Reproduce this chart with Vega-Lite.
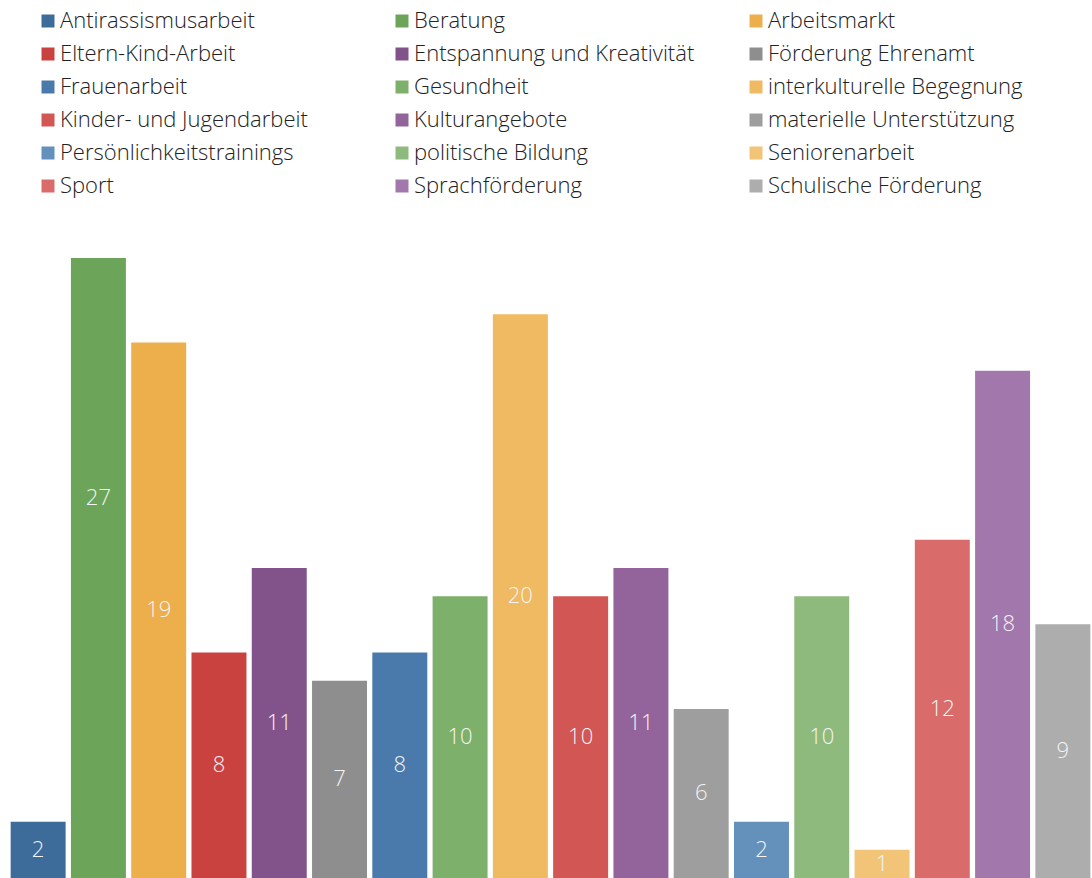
{
  "$schema": "https://vega.github.io/schema/vega-lite/v6.json",
  "autosize": {"type": "none"},
  "width": 1085,
  "height": 620,
  "padding": {"left": 8, "top": 258, "right": 0, "bottom": 0},
  "background": "white",
  "config": {"view": {"stroke": null}},
  "data": {"values": [
    {"cat": "Antirassismusarbeit", "value": 2},
    {"cat": "Beratung", "value": 27},
    {"cat": "Arbeitsmarkt", "value": 19},
    {"cat": "Eltern-Kind-Arbeit", "value": 8},
    {"cat": "Entspannung und Kreativität", "value": 11},
    {"cat": "Förderung Ehrenamt", "value": 7},
    {"cat": "Frauenarbeit", "value": 8},
    {"cat": "Gesundheit", "value": 10},
    {"cat": "interkulturelle Begegnung", "value": 20},
    {"cat": "Kinder- und Jugendarbeit", "value": 10},
    {"cat": "Kulturangebote", "value": 11},
    {"cat": "materielle Unterstützung", "value": 6},
    {"cat": "Persönlichkeitstrainings", "value": 2},
    {"cat": "politische Bildung", "value": 10},
    {"cat": "Seniorenarbeit", "value": 1},
    {"cat": "Sport", "value": 12},
    {"cat": "Sprachförderung", "value": 18},
    {"cat": "Schulische Förderung", "value": 9}
  ]},
  "layer": [
    {
      "mark": {"type": "bar", "clip": true},
      "encoding": {
        "x": {"field": "cat", "type": "nominal", "sort": null, "axis": null,
              "scale": {"paddingInner": 0.088, "paddingOuter": 0.044}},
        "y": {"field": "value", "type": "quantitative", "axis": null,
              "scale": {"domain": [0, 22], "nice": false, "zero": true}},
        "color": {"field": "cat", "type": "nominal", "sort": null,
          "scale": {
            "domain": ["Antirassismusarbeit","Beratung","Arbeitsmarkt","Eltern-Kind-Arbeit","Entspannung und Kreativität","Förderung Ehrenamt","Frauenarbeit","Gesundheit","interkulturelle Begegnung","Kinder- und Jugendarbeit","Kulturangebote","materielle Unterstützung","Persönlichkeitstrainings","politische Bildung","Seniorenarbeit","Sport","Sprachförderung","Schulische Förderung"],
            "range": ["#3D6B9A","#6CA55A","#EDAF4C","#C9423F","#82528A","#8E8E8E","#4A7AAB","#7DB06A","#F0BA63","#D25654","#93649B","#9E9E9E","#6490BC","#8FBA7D","#F2C477","#D96C6A","#A277AC","#ADADAD"]
          },
          "legend": {
            "title": null,
            "orient": "none",
            "direction": "horizontal",
            "legendX": 29,
            "legendY": -248,
            "columns": 3,
            "gridAlign": "all",
            "columnPadding": 50,
            "rowPadding": 11,
            "symbolType": "square",
            "symbolSize": 169,
            "symbolStrokeWidth": 0,
            "symbolOpacity": 1,
            "labelFont": "Open Sans",
            "labelFontWeight": 300,
            "labelFontSize": 22,
            "labelColor": "#222222",
            "labelOffset": 1,
            "labelLimit": 500,
            "padding": 0
          }
        }
      }
    },
    {
      "mark": {"type": "text", "color": "#F4F4F4", "font": "Open Sans", "fontWeight": 300, "fontSize": 22, "baseline": "middle", "align": "center"},
      "encoding": {
        "x": {"field": "cat", "type": "nominal", "sort": null, "axis": null},
        "y": {"field": "value", "type": "quantitative", "axis": null,
              "scale": {"domain": [0, 44], "nice": false, "zero": true}},
        "text": {"field": "value", "type": "quantitative"}
      }
    }
  ],
  "resolve": {"scale": {"y": "independent"}}
}
